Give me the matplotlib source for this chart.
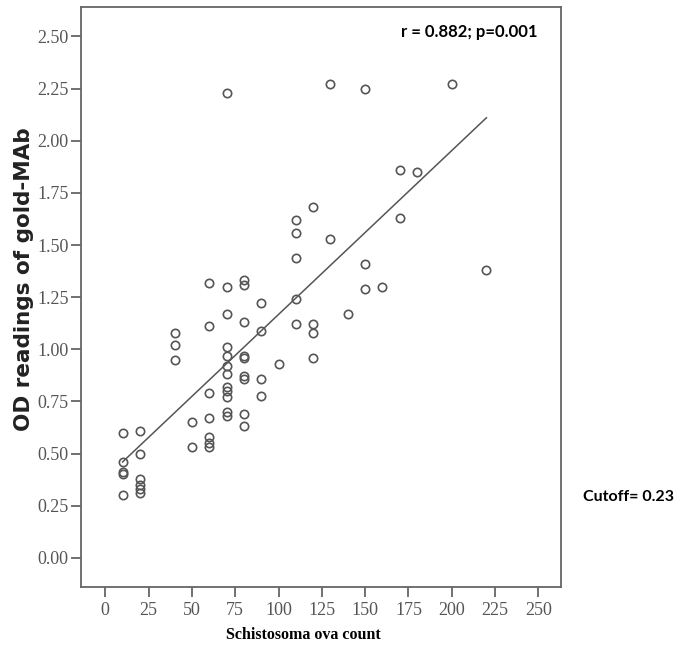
import matplotlib
matplotlib.use("Agg")
import matplotlib.pyplot as plt

# ova count vs OD reading
ova_count = [10, 10, 10, 10, 10,
             20, 20, 20, 20, 20, 20,
             40, 40, 40,
             50, 50,
             60, 60, 60, 60, 60, 60, 60,
             70, 70, 70, 70, 70, 70, 70, 70, 70, 70, 70, 70,
             80, 80, 80, 80, 80, 80, 80, 80, 80,
             90, 90, 90, 90,
             100,
             110, 110, 110, 110, 110,
             120, 120, 120, 120,
             130, 130,
             140,
             150, 150, 150,
             160,
             170, 170,
             180,
             200,
             220]
od_reading = [0.60, 0.46, 0.41, 0.40, 0.30,
              0.61, 0.50, 0.38, 0.35, 0.33, 0.31,
              1.08, 1.02, 0.95,
              0.65, 0.53,
              1.32, 1.11, 0.79, 0.67, 0.58, 0.55, 0.53,
              2.23, 1.30, 1.17, 1.01, 0.97, 0.92, 0.88, 0.82, 0.80, 0.77, 0.70, 0.68,
              1.33, 1.31, 1.13, 0.97, 0.96, 0.87, 0.86, 0.69, 0.63,
              1.22, 1.09, 0.86, 0.775,
              0.93,
              1.62, 1.56, 1.44, 1.24, 1.12,
              1.68, 1.12, 1.08, 0.96,
              2.27, 1.53,
              1.17,
              2.25, 1.41, 1.29,
              1.30,
              1.86, 1.63,
              1.85,
              2.27,
              1.38]

# fit line ends as drawn
fit_x = [10, 220]
fit_y = [0.46, 2.11]

x_ticks = [0, 25, 50, 75, 100, 125, 150, 175, 200, 225, 250]
y_ticks = [0.00, 0.25, 0.50, 0.75, 1.00, 1.25, 1.50, 1.75, 2.00, 2.25, 2.50]

fig = plt.figure(figsize=(6.75, 6.56), dpi=100)
ax = fig.add_axes([0.12, 0.105, 0.711, 0.884])

ax.plot(ova_count, od_reading, 'o', mfc='none', mec='#555555', mew=1.2, ms=6)
ax.plot(fit_x, fit_y, color='#555555', lw=1.1)

ax.set_xlim(-14, 263)
ax.set_ylim(-0.14, 2.64)
ax.set_xticks(x_ticks)
ax.set_yticks(y_ticks)
ax.set_yticklabels(["%.2f" % v for v in y_ticks])
for sp in ax.spines.values():
    sp.set_color('#666666')
    sp.set_linewidth(1.3)
ax.tick_params(direction='out', length=7, width=1.3, color='#666666',
               labelcolor='#555555', labelsize=13, pad=2)
ax.tick_params(axis='x', pad=4)
for lab in ax.get_xticklabels() + ax.get_yticklabels():
    lab.set_family('Liberation Serif')

ax.set_xlabel("Schistosoma ova count", family='Liberation Serif',
              fontweight='bold', fontsize=11.5)
ax.xaxis.set_label_coords(0.4625, -0.068)
ax.set_ylabel("OD readings of gold-MAb", family='DejaVu Sans',
              fontweight='bold', fontsize=15.5, color='#222222')
ax.yaxis.set_label_coords(-0.098, 0.531)

ax.text(0.952, 0.957, "r = 0.882; p=0.001", transform=ax.transAxes,
        ha='right', va='center', family='Lato', fontweight='bold', fontsize=12)
fig.text(0.864, 0.242, "Cutoff= 0.23", ha='left', va='center',
         family='Lato', fontweight='bold', fontsize=11.5)

fig.savefig("out.png", dpi=100, facecolor='white')
